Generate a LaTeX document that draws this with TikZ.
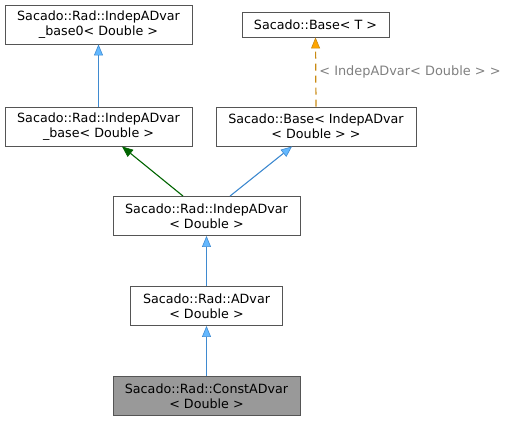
\documentclass[tikz,border=0pt]{standalone}
\usepackage{fontspec}
\setmainfont{DejaVu Sans}
\usetikzlibrary{arrows.meta}
\definecolor{boxborder}{HTML}{555555}
\definecolor{hlfill}{HTML}{999999}
\definecolor{publine}{HTML}{3F8AD0}
\definecolor{pubhead}{HTML}{63B8FF}
\definecolor{protline}{HTML}{006400}
\definecolor{tmplline}{HTML}{C98A12}
\definecolor{tmplhead}{HTML}{FFA500}
\definecolor{lblgray}{HTML}{808080}
\begin{document}
\begin{tikzpicture}[x=1pt,y=-1pt,
  cls/.style={draw=boxborder, fill=white, line width=0.9pt, inner sep=0pt,
    align=center, font=\fontsize{12.7}{15}\selectfont, minimum height=39pt},
  hl/.style={cls, fill=hlfill},
  pub/.style={draw=publine, line width=1.1pt,
    -{Triangle[length=11pt,width=9pt,fill=pubhead,line width=0.6pt]}},
  prot/.style={draw=protline, line width=1.1pt,
    -{Triangle[length=11pt,width=9pt,fill=protline,line width=0.6pt]}},
  tmpl/.style={draw=tmplline, line width=1.2pt, dash pattern=on 7pt off 5pt,
    -{Triangle[length=11pt,width=9pt,fill=tmplhead,line width=0.6pt]}}]
\useasboundingbox (0,0) rectangle (508,421);
\node[cls, minimum width=187pt] (A) at (98.5,24.5) {Sacado::Rad::IndepADvar\\\_base0< Double >};
\node[cls, minimum width=147pt, minimum height=25pt] (B) at (315.5,24.5) {Sacado::Base< T >};
\node[cls, minimum width=187pt] (C) at (98.5,126.5) {Sacado::Rad::IndepADvar\\\_base< Double >};
\node[cls, minimum width=200pt] (D) at (316,126.5) {Sacado::Base< IndepADvar\\< Double > >};
\node[cls, minimum width=187pt] (E) at (206.5,216) {Sacado::Rad::IndepADvar\\< Double >};
\node[cls, minimum width=152pt] (F) at (206.5,306) {Sacado::Rad::ADvar\\< Double >};
\node[hl, minimum width=187pt] (G) at (206.5,396) {Sacado::Rad::ConstADvar\\< Double >};
\draw[pub] (C.north) -- (A.south);
\draw[tmpl] (D.north) -- node[right, pos=0.5, xshift=1pt, text=lblgray, font=\fontsize{12.9}{15}\selectfont, inner sep=2pt] (lbl) {< IndepADvar< Double > >} (B.south);
\draw[prot] ([xshift=-23.5pt]E.north) -- ([xshift=23.5pt]C.south);
\draw[pub] ([xshift=23.5pt]E.north) -- ([xshift=-24pt]D.south);
\draw[pub] (F.north) -- (E.south);
\draw[pub] (G.north) -- (F.south);
\end{tikzpicture}
\end{document}
